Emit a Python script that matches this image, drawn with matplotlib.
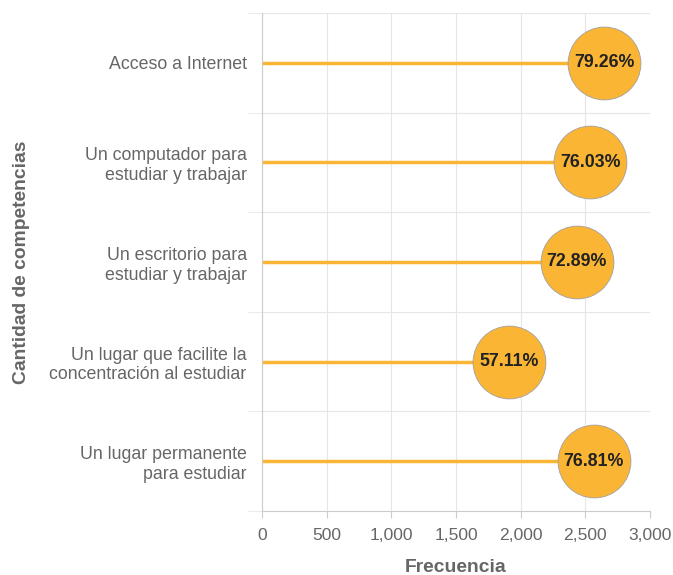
import matplotlib
matplotlib.use("Agg")
import matplotlib.pyplot as plt
import numpy as np

plt.rcParams['font.family'] = ['Liberation Sans', 'DejaVu Sans']

categorias = ["Acceso a Internet",
              "Un computador para\nestudiar y trabajar",
              "Un escritorio para\nestudiar y trabajar",
              "Un lugar que facilite la\nconcentración al estudiar",
              "Un lugar permanente\npara estudiar"]
frecuencias = [2647, 2539, 2434, 1907, 2565]
porcentajes = ["79.26%", "76.03%", "72.89%", "57.11%", "76.81%"]

naranja = "#fbb534"
gris = "#666666"

fig = plt.figure(figsize=(6.73, 5.75), dpi=100)
ax = fig.add_axes([0.3893, 0.1113, 0.5766, 0.8661])

y = np.arange(len(categorias))
ax.hlines(y, 0, frecuencias, color=naranja, linewidth=2.5, zorder=2)
ax.scatter(frecuencias, y, s=2750, color=naranja, edgecolor="#a0a0a0",
           linewidth=0.6, zorder=3)
for xi, yi, txt in zip(frecuencias, y, porcentajes):
    ax.text(xi, yi, txt, ha="center", va="center", fontsize=12.8,
            fontweight="bold", color="#222222", zorder=4)

ax.set_xlim(0, 3000)
ax.set_ylim(len(categorias) - 0.5, -0.5)
ax.set_xticks(np.arange(0, 3001, 500))
ax.set_xticklabels([f"{v:,}" for v in range(0, 3001, 500)])
ax.set_yticks(y)
ax.set_yticklabels(categorias, fontsize=12.8, color=gris)
ax.set_yticks(np.arange(-0.5, len(categorias), 1), minor=True)
ax.tick_params(axis="y", which="major", length=0, pad=11)
ax.tick_params(axis="y", which="minor", length=10, color="#e6e6e6")
ax.tick_params(axis="x", length=5, color="#cccccc", labelsize=12.6,
               labelcolor=gris, pad=7)

ax.grid(axis="x", color="#e6e6e6", linewidth=0.8, zorder=0)
ax.grid(axis="y", which="minor", color="#e6e6e6", linewidth=0.8, zorder=0)
ax.set_axisbelow(True)
for s in ["top", "right"]:
    ax.spines[s].set_visible(False)
ax.spines["left"].set_color("#cccccc")
ax.spines["bottom"].set_color("#cccccc")
ax.spines["left"].set_linewidth(0.8)
ax.spines["bottom"].set_linewidth(0.8)

fig.text(456 / 673, 1 - 567 / 575, "Frecuencia", ha="center", va="center",
         fontsize=13.9, fontweight="bold", color=gris)
fig.text(22 / 673, 1 - 262 / 575, "Cantidad de competencias", ha="center",
         va="center", rotation=90, fontsize=13.9, fontweight="bold", color=gris)

fig.savefig("out.png", dpi=100)
